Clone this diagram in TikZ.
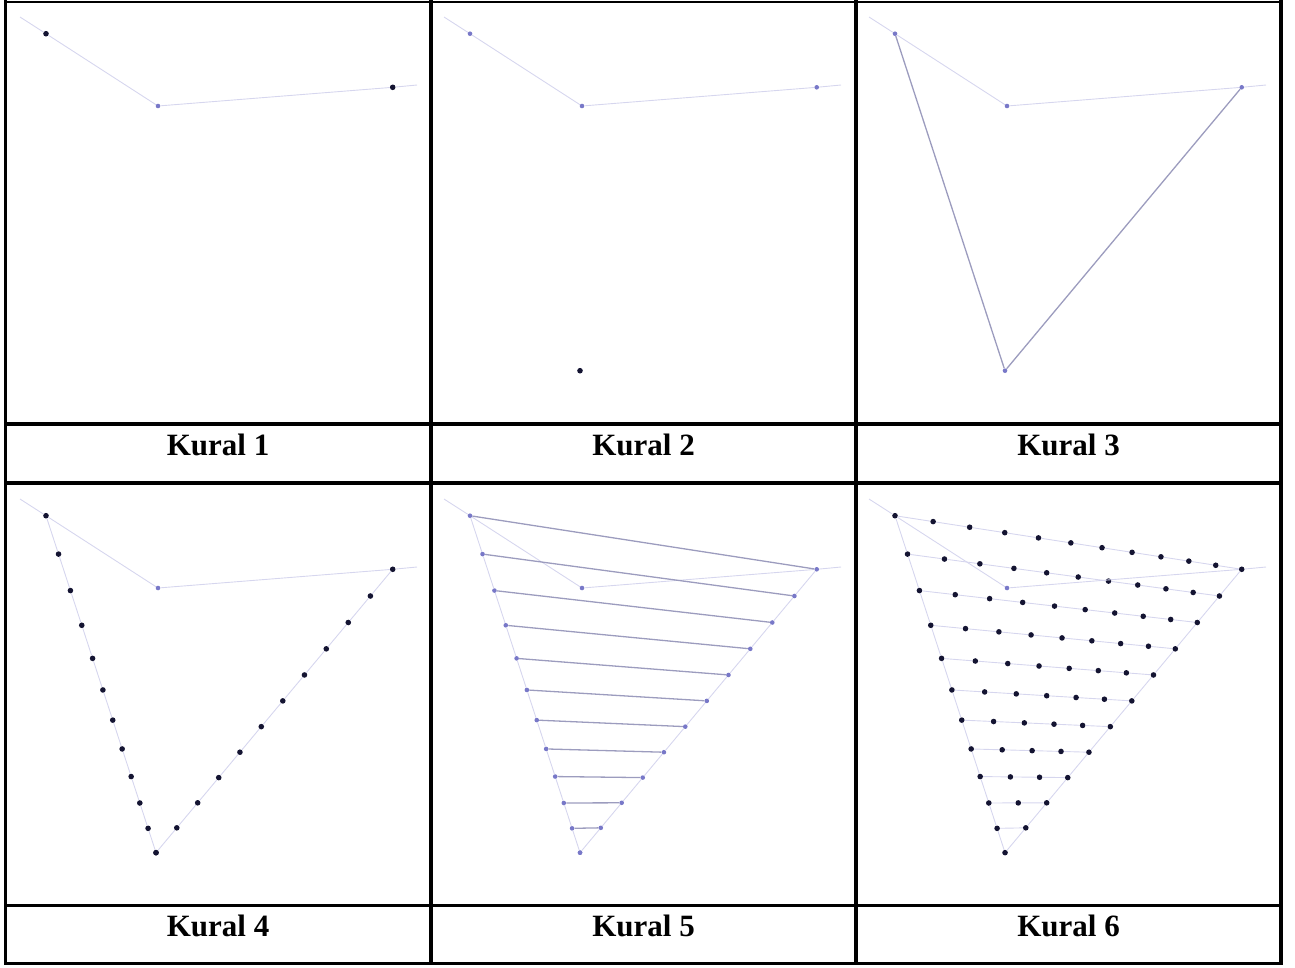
\documentclass[tikz,border=0pt]{standalone}
\usepackage{fontspec}
\setmainfont{Liberation Serif}

\definecolor{faintline}{RGB}{214,214,238}
\definecolor{midline}{RGB}{156,156,190}
\definecolor{lightdot}{RGB}{120,120,200}
\definecolor{darkdot}{RGB}{20,20,50}

\tikzset{
  darkpt/.style={circle, fill=darkdot, inner sep=0pt, minimum size=5.6pt},
  lightpt/.style={circle, fill=lightdot, inner sep=0pt, minimum size=4.6pt},
  faint/.style={draw=faintline, line width=0.9pt},
  mid/.style={draw=midline, line width=1.3pt},
  rule/.style={line width=3.8pt, line cap=rect},
  caption/.style={font=\bfseries\fontsize{31}{31}\selectfont, anchor=base}
}

% point (i,j) of the triangle grid, seen in perspective
\newcommand{\projpt}[2]{%
  \pgfmathsetmacro{\ppa}{11-#1-#2}%
  \pgfmathsetmacro{\ppd}{\ppa+1.235*#2+1.285*#1}%
  \pgfmathsetmacro{\ppx}{(46*\ppa+485*#2+200.5*#1)/\ppd}%
  \pgfmathsetmacro{\ppy}{(33.7*\ppa+107.8*#2+476.3*#1)/\ppd}%
}

\begin{document}
\begin{tikzpicture}[x=1pt, y=-1pt]
	\useasboundingbox (0,0) rectangle (1295,967);
	
	% Tablo
	\draw[line width=1.5pt] (5.5,2) -- (1281,2);
	\draw[rule] (5.5,2) -- (5.5,963.5);
	\draw[rule] (431,2) -- (431,963.5);
	\draw[rule] (856,2) -- (856,963.5);
	\draw[rule] (1281,2) -- (1281,963.5);
	\draw[rule] (5.5,424) -- (1281,424);
	\draw[rule] (5.5,483) -- (1281,483);
	\draw[rule] (5.5,905.5) -- (1281,905.5);
	\draw[rule] (5.5,963.5) -- (1281,963.5);
	
	% Kural 1
	\begin{scope}[name prefix=p1-]
		\coordinate (s) at (20,17);
		\node[darkpt] (a) at (46,33.7) {};
		\node[lightpt] (m) at (158,106) {};
		\node[darkpt] (b) at (392.7,87.3) {};
		\coordinate (e) at (417,85);
		\draw[faint] (s) -- (a) -- (m) -- (b) -- (e);
	\end{scope}
	
	% Kural 2
	\begin{scope}[shift={(424,0)}, name prefix=p2-]
		\coordinate (s) at (20,17);
		\node[lightpt] (a) at (46,33.7) {};
		\node[lightpt] (m) at (158,106) {};
		\node[lightpt] (b) at (392.7,87.3) {};
		\coordinate (e) at (417,85);
		\node[darkpt] (c) at (156,370.7) {};
		\draw[faint] (s) -- (a) -- (m) -- (b) -- (e);
	\end{scope}
	
	% Kural 3
	\begin{scope}[shift={(849,0)}, name prefix=p3-]
		\coordinate (s) at (20,17);
		\node[lightpt] (a) at (46,33.7) {};
		\node[lightpt] (m) at (158,106) {};
		\node[lightpt] (b) at (392.7,87.3) {};
		\coordinate (e) at (417,85);
		\node[lightpt] (c) at (156,370.7) {};
		\draw[faint] (s) -- (a) -- (m) -- (b) -- (e);
		\draw[mid] (a) -- (c) -- (b);
	\end{scope}
	
	% Kural 4
	\begin{scope}[shift={(0,482)}, name prefix=p4-]
		\foreach \i in {0,...,11} {
			\projpt{\i}{0}
			\node[darkpt] (l\i) at (\ppx,\ppy) {};
			\pgfmathtruncatemacro{\jr}{11-\i}
			\projpt{\i}{\jr}
			\node[darkpt] (r\i) at (\ppx,\ppy) {};
		}
		\coordinate (s) at (20,17);
		\node[lightpt] (m) at (158,106) {};
		\coordinate (e) at (417,85);
		\draw[faint] (s) -- (l0) -- (m) -- (r0) -- (e);
		\foreach \i in {0,...,10} {
			\pgfmathtruncatemacro{\inext}{\i+1}
			\draw[faint] (l\i) -- (l\inext);
			\draw[faint] (r\i) -- (r\inext);
		}
	\end{scope}
	
	% Kural 5
	\begin{scope}[shift={(424,482)}, name prefix=p5-]
		\foreach \i in {0,...,11} {
			\projpt{\i}{0}
			\node[lightpt] (l\i) at (\ppx,\ppy) {};
			\pgfmathtruncatemacro{\jr}{11-\i}
			\projpt{\i}{\jr}
			\node[lightpt] (r\i) at (\ppx,\ppy) {};
		}
		\coordinate (s) at (20,17);
		\node[lightpt] (m) at (158,106) {};
		\coordinate (e) at (417,85);
		\draw[faint] (s) -- (l0) -- (m) -- (r0) -- (e);
		\foreach \i in {0,...,10} {
			\pgfmathtruncatemacro{\inext}{\i+1}
			\draw[faint] (l\i) -- (l\inext);
			\draw[faint] (r\i) -- (r\inext);
			\draw[mid] (l\i) -- (r\i);
		}
	\end{scope}
	
	% Kural 6
	\begin{scope}[shift={(849,482)}, name prefix=p6-]
		\foreach \i in {0,...,11} {
			\pgfmathtruncatemacro{\jmax}{11-\i}
			\foreach \j in {0,...,\jmax} {
				\projpt{\i}{\j}
				\node[darkpt] (g\i-\j) at (\ppx,\ppy) {};
			}
		}
		\coordinate (s) at (20,17);
		\node[lightpt] (m) at (158,106) {};
		\coordinate (e) at (417,85);
		\draw[faint] (s) -- (g0-0) -- (m) -- (g0-11) -- (e);
		\foreach \i in {0,...,10} {
			\pgfmathtruncatemacro{\inext}{\i+1}
			\pgfmathtruncatemacro{\jr}{11-\i}
			\pgfmathtruncatemacro{\jrn}{10-\i}
			\draw[faint] (g\i-0) -- (g\inext-0);
			\draw[faint] (g\i-\jr) -- (g\inext-\jrn);
			\foreach \j in {0,...,\jrn} {
				\pgfmathtruncatemacro{\jn}{\j+1}
				\draw[faint] (g\i-\j) -- (g\i-\jn);
			}
		}
	\end{scope}
	
	% Başlıklar
	\node[caption] (k1) at (218,455.7) {Kural 1};
	\node[caption] (k2) at (643.5,455.7) {Kural 2};
	\node[caption] (k3) at (1068.5,455.7) {Kural 3};
	\node[caption] (k4) at (218,936.7) {Kural 4};
	\node[caption] (k5) at (643.5,936.7) {Kural 5};
	\node[caption] (k6) at (1068.5,936.7) {Kural 6};
\end{tikzpicture}
\end{document}
